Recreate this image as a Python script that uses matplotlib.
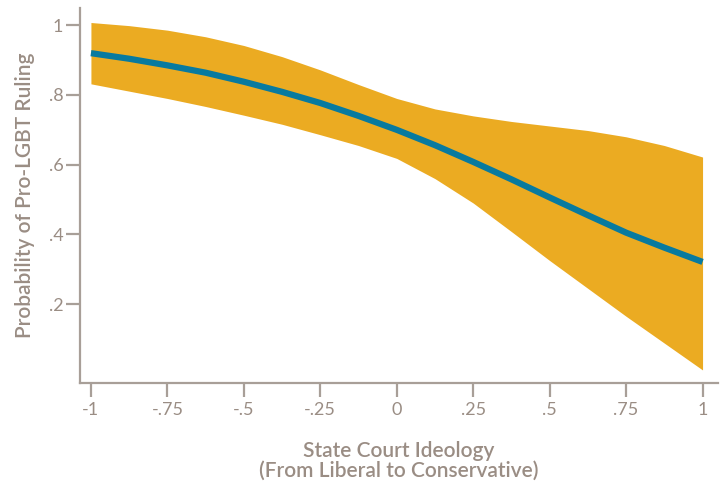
import matplotlib.pyplot as plt

# values
ideology = [-1, -0.875, -0.75, -0.625, -0.5, -0.375, -0.25, -0.125, 0,
            0.125, 0.25, 0.375, 0.5, 0.625, 0.75, 0.875, 1]
prob = [0.920, 0.904, 0.885, 0.864, 0.838, 0.809, 0.777, 0.740, 0.700,
        0.656, 0.608, 0.558, 0.506, 0.455, 0.405, 0.362, 0.321]
upper = [1.008, 0.999, 0.986, 0.967, 0.942, 0.910, 0.872, 0.830, 0.790,
         0.760, 0.740, 0.724, 0.711, 0.698, 0.680, 0.655, 0.622]
lower = [0.832, 0.811, 0.790, 0.767, 0.742, 0.716, 0.686, 0.655, 0.618,
         0.560, 0.490, 0.408, 0.325, 0.245, 0.165, 0.088, 0.011]

xticks = [-1, -0.75, -0.5, -0.25, 0, 0.25, 0.5, 0.75, 1]
xlabels = ['-1', '-.75', '-.5', '-.25', '0', '.25', '.5', '.75', '1']
yticks = [0.2, 0.4, 0.6, 0.8, 1]
ylabels = ['.2', '.4', '.6', '.8', '1']

plt.rcParams['font.family'] = ['Lato', 'DejaVu Sans']
axis_col = '#a89f98'
text_col = '#9a8d84'

fig = plt.figure(figsize=(7.2, 4.83), dpi=100)
ax = fig.add_axes([0.111, 0.207, 0.886, 0.776])

ax.fill_between(ideology, lower, upper, color='#ebab22', linewidth=0)
ax.plot(ideology, prob, color='#087a9f', linewidth=4.5,
        solid_capstyle='butt', solid_joinstyle='round')

ax.set_xlim(-1.036, 1.05)
ax.set_ylim(-0.0265, 1.049)
ax.set_xticks(xticks)
ax.set_xticklabels(xlabels)
ax.set_yticks(yticks)
ax.set_yticklabels(ylabels)

for s in ['top', 'right']:
    ax.spines[s].set_visible(False)
for s in ['left', 'bottom']:
    ax.spines[s].set_color(axis_col)
    ax.spines[s].set_linewidth(1.6)

ax.tick_params(axis='both', colors=axis_col, length=10, width=1.6,
               labelsize=13, labelcolor=text_col)
ax.tick_params(axis='x', pad=4)
ax.tick_params(axis='y', pad=2)

ax.set_xlabel('State Court Ideology\n(From Liberal to Conservative)',
              fontsize=15, color=text_col, labelpad=16, linespacing=1.0,
              fontweight='semibold')
ax.set_ylabel('Probability of Pro-LGBT Ruling', fontsize=15,
              color=text_col, labelpad=10, fontweight='semibold')

fig.savefig('out.png', dpi=100)
